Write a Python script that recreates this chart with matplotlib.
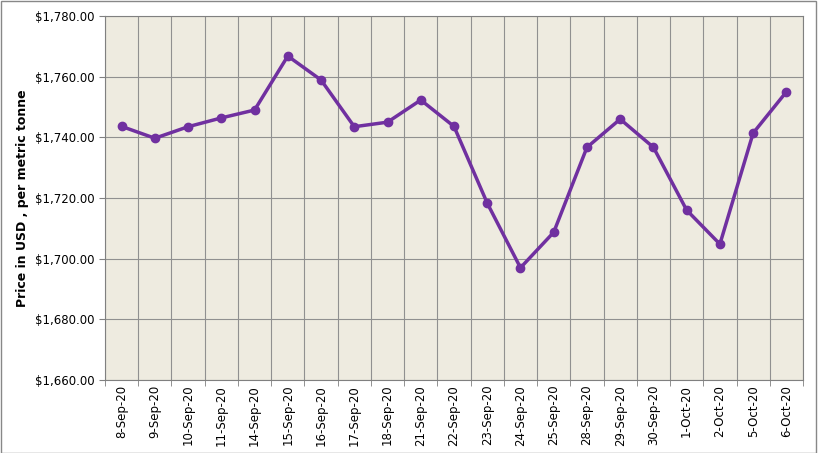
import matplotlib.pyplot as plt
import numpy as np

dates = ['8-Sep-20', '9-Sep-20', '10-Sep-20', '11-Sep-20', '14-Sep-20', '15-Sep-20',
         '16-Sep-20', '17-Sep-20', '18-Sep-20', '21-Sep-20', '22-Sep-20', '23-Sep-20',
         '24-Sep-20', '25-Sep-20', '28-Sep-20', '29-Sep-20', '30-Sep-20', '1-Oct-20',
         '2-Oct-20', '5-Oct-20', '6-Oct-20']
prices = [1743.6, 1739.7, 1743.5, 1746.4, 1749.0, 1766.8, 1758.9, 1743.5, 1745.0,
          1752.3, 1743.6, 1718.3, 1697.0, 1708.7, 1736.7, 1746.0, 1736.7, 1716.0,
          1704.8, 1741.4, 1755.0]

fig = plt.figure(figsize=(8.18, 4.53), dpi=100)
ax = fig.add_axes([105/818, 1-380/453, 698/818, 364/453])
ax.set_facecolor('#EEEBE0')

x = np.arange(len(dates))
ax.plot(x, prices, color='#7030A0', lw=2.5, marker='o', ms=6)
ax.set_xlim(-0.5, len(dates) - 0.5)
ax.set_ylim(1660, 1780)
ax.set_yticks(np.arange(1660, 1781, 20))
ax.set_yticklabels([f'${v:,.2f}' for v in range(1660, 1781, 20)], fontsize=8.5)
ax.set_xticks(x)
ax.set_xticklabels(dates, rotation=90, fontsize=8.5)
ax.set_xticks(np.arange(-0.5, len(dates)), minor=True)
ax.tick_params(axis='x', which='major', length=0)
ax.tick_params(axis='x', which='minor', length=4, color='#808080')
ax.tick_params(axis='y', length=4, color='#808080')
ax.grid(True, axis='y', color='#909090', lw=0.8)
ax.grid(True, axis='x', which='minor', color='#909090', lw=0.8)
ax.set_axisbelow(True)
for s in ax.spines.values():
    s.set_color('#808080')
ax.set_ylabel('Price in USD , per metric tonne', fontsize=9, fontweight='bold')

fig.patches.append(plt.Rectangle((0.001, 0.001), 0.997, 0.997, transform=fig.transFigure,
                                 fill=False, edgecolor='#888888', lw=1))
fig.savefig('out.png', dpi=100)
